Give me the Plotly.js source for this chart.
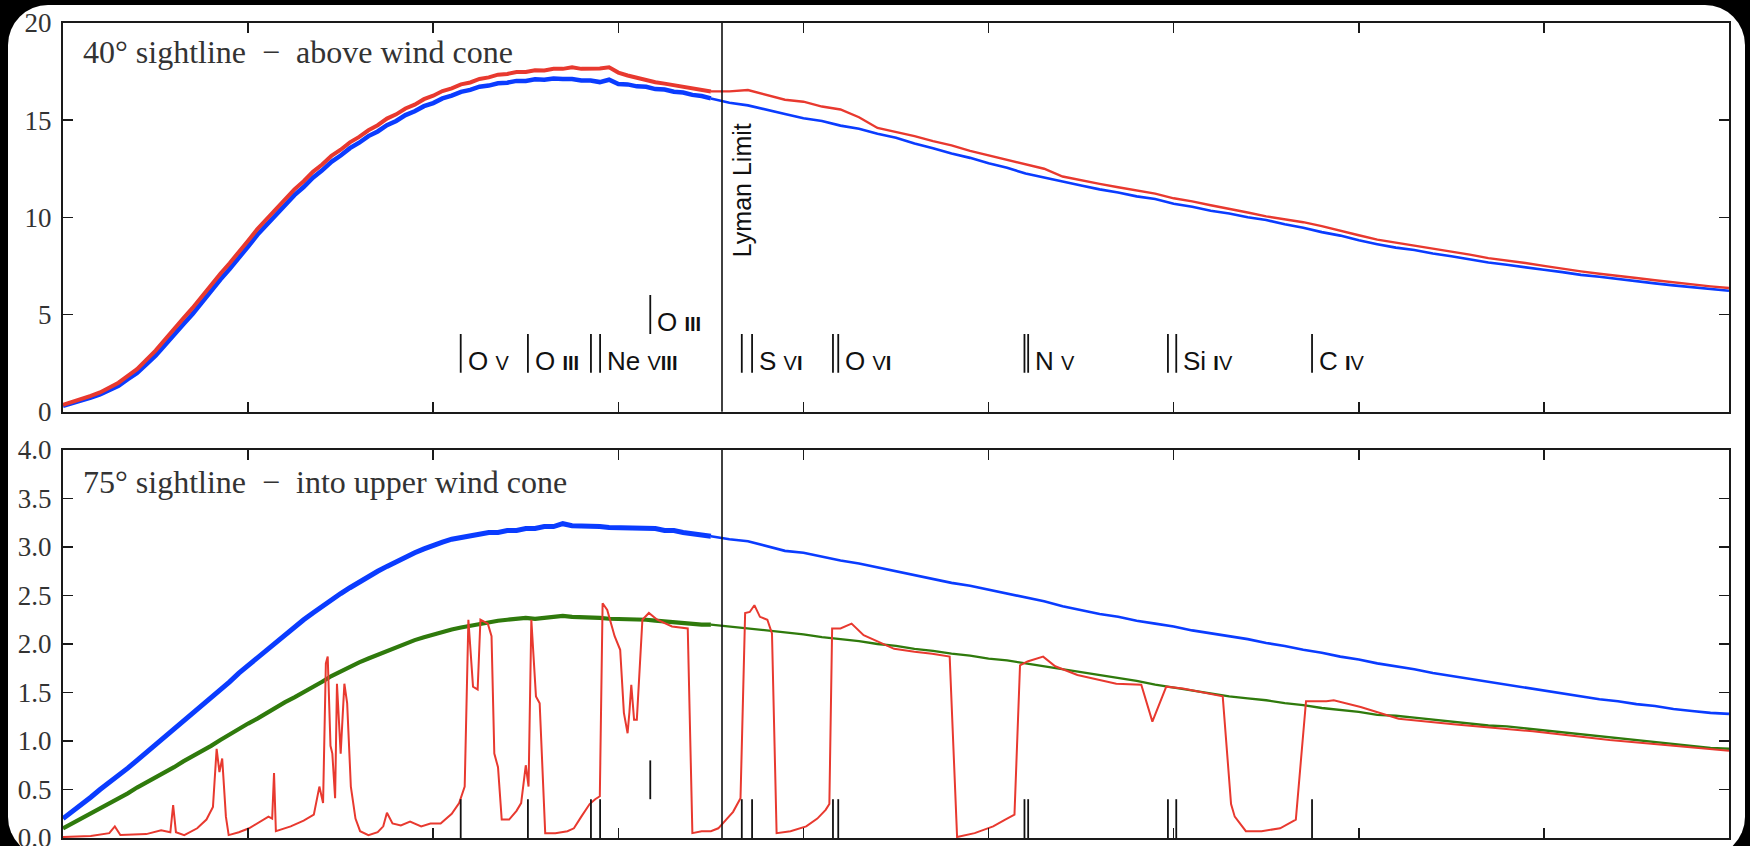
<!DOCTYPE html>
<html><head><meta charset="utf-8">
<script src="https://cdn.plot.ly/plotly-3.0.1.min.js"></script>
<style>
html,body{margin:0;padding:0;background:#000;overflow:hidden;width:1750px;height:846px;}
#card{position:absolute;left:8px;top:5px;width:1737px;height:852px;background:#fff;border-radius:40px;overflow:hidden;}
#plot{position:absolute;left:0;top:0;width:1737px;height:870px;}
</style></head><body><div id="card"><div id="plot"></div></div>
<script>
// wavelength grid (Angstrom)
const wave = [200,210,220,230,240,250,260,270,280,290,300,310,320,330,340,350,360,370,380,390,
400,410,420,430,440,450,460,470,480,490,500,510,520,530,540,550,560,570,580,590,
600,610,620,630,640,650,660,670,680,690,700,710,720,730,740,750,760,770,780,790,
800,810,820,830,840,850,860,870,880,890,900,
920,940,960,980,1000,1020,1040,1060,1080,1100,1120,1140,1160,1180,1200,1220,1240,1260,1280,1300,
1320,1340,1360,1380,1400,1420,1440,1460,1480,1500,1520,1540,1560,1580,1600,1620,1640,1660,1680,1700,
1720,1740,1760,1780,1800,1820,1840,1860,1880,1900,1920,1940,1960,1980,2000];

// 40 deg sightline
const top40Blue = [0.30,0.43,0.55,0.73,0.89,1.12,1.33,1.67,1.99,2.44,
2.88,3.42,3.92,4.50,5.03,5.64,6.18,6.80,7.34,7.96,
8.50,9.10,9.60,10.16,10.62,11.14,11.56,12.04,12.42,12.86,
13.18,13.56,13.84,14.18,14.42,14.74,14.96,15.26,15.46,15.72,
15.88,16.12,16.26,16.46,16.56,16.72,16.78,16.90,16.93,17.02,
17.02,17.10,17.08,17.14,17.12,17.12,17.04,17.04,16.96,17.08,
16.86,16.84,16.74,16.72,16.60,16.58,16.46,16.42,16.30,16.24,
16.12,
15.90,15.76,15.52,15.32,15.10,14.96,14.72,14.56,14.30,14.10,
13.80,13.56,13.28,13.06,12.78,12.55,12.25,12.06,11.84,11.64,
11.44,11.28,11.08,10.94,10.70,10.54,10.34,10.20,10.00,9.86,
9.64,9.46,9.24,9.06,8.82,8.62,8.44,8.32,8.14,8.00,
7.84,7.68,7.56,7.42,7.30,7.18,7.04,6.94,6.82,6.72,
6.60,6.50,6.40,6.30,6.22];
const top40Red = [0.35,0.49,0.62,0.81,0.99,1.24,1.49,1.84,2.19,2.67,
3.14,3.70,4.22,4.80,5.34,5.94,6.48,7.10,7.64,8.26,
8.80,9.40,9.90,10.46,10.92,11.44,11.86,12.34,12.72,13.16,
13.48,13.86,14.14,14.48,14.74,15.08,15.30,15.60,15.80,16.08,
16.26,16.50,16.64,16.84,16.94,17.12,17.20,17.34,17.38,17.48,
17.48,17.57,17.56,17.64,17.64,17.72,17.64,17.64,17.66,17.72,
17.45,17.30,17.18,17.05,16.95,16.88,16.80,16.72,16.64,16.56,
16.48,
16.48,16.55,16.30,16.05,15.95,15.70,15.55,15.15,14.60,14.40,
14.18,13.92,13.70,13.42,13.20,12.95,12.75,12.50,12.10,11.90,
11.72,11.55,11.38,11.22,10.98,10.82,10.62,10.45,10.25,10.05,
9.90,9.75,9.55,9.30,9.08,8.85,8.70,8.52,8.38,8.22,
8.08,7.90,7.78,7.65,7.50,7.35,7.22,7.10,7.00,6.88,
6.76,6.65,6.55,6.45,6.36];

// 75 deg sightline
const low75Blue = [0.20,0.27,0.34,0.42,0.50,0.57,0.65,0.72,0.80,0.88,
0.96,1.04,1.12,1.20,1.28,1.37,1.45,1.53,1.61,1.70,
1.78,1.86,1.94,2.02,2.10,2.17,2.25,2.32,2.39,2.46,
2.52,2.58,2.64,2.70,2.75,2.80,2.85,2.90,2.94,2.98,
3.02,3.05,3.08,3.10,3.12,3.13,3.15,3.15,3.17,3.17,
3.19,3.19,3.21,3.21,3.24,3.22,3.22,3.21,3.21,3.20,
3.20,3.19,3.20,3.19,3.19,3.17,3.17,3.15,3.14,3.12,
3.11,
3.08,3.06,3.01,2.96,2.94,2.90,2.86,2.83,2.79,2.75,
2.71,2.67,2.63,2.60,2.56,2.52,2.48,2.44,2.39,2.35,
2.31,2.28,2.24,2.21,2.18,2.14,2.11,2.08,2.05,2.01,
1.98,1.94,1.91,1.87,1.84,1.80,1.77,1.74,1.70,1.67,
1.64,1.61,1.58,1.55,1.52,1.49,1.46,1.43,1.41,1.38,
1.36,1.33,1.31,1.29,1.28];
const low75Green = [0.10,0.15,0.20,0.25,0.31,0.36,0.41,0.46,0.52,0.57,
0.62,0.68,0.73,0.79,0.84,0.90,0.95,1.01,1.07,1.12,
1.18,1.23,1.29,1.34,1.40,1.45,1.50,1.56,1.61,1.67,
1.72,1.76,1.81,1.85,1.89,1.93,1.97,2.00,2.04,2.07,
2.10,2.12,2.15,2.17,2.19,2.21,2.22,2.24,2.25,2.26,
2.27,2.26,2.27,2.28,2.29,2.28,2.28,2.27,2.27,2.26,
2.26,2.25,2.25,2.25,2.24,2.23,2.23,2.22,2.21,2.20,
2.20,
2.18,2.16,2.14,2.12,2.10,2.07,2.05,2.03,2.00,1.98,
1.95,1.93,1.90,1.88,1.85,1.83,1.80,1.77,1.74,1.71,
1.68,1.65,1.62,1.58,1.55,1.52,1.49,1.46,1.44,1.42,
1.39,1.37,1.34,1.32,1.30,1.27,1.26,1.24,1.22,1.20,
1.18,1.16,1.15,1.13,1.11,1.09,1.07,1.05,1.03,1.01,
0.99,0.97,0.95,0.93,0.92];

// absorbed spectrum (own wavelength samples)
const absWave = [200,230,250,256,262,290,306,316,319,322,331,345,355,362,366,369,372,376,379,390,
401,415,422,426,428,430,446,460,471,477,481,484,486,489,491,494,496,500,504,507,
511,516,521,530,540,546,550,556,565,575,587,597,608,620,628,634,638,643,648,651,
659,663,666,670,674,682,690,695,700,703,706,711,715,721,732,745,752,760,769,775,
780,783,788,796,802,806,810,812,814,817,820,826,833,842,858,875,877,880,890,900,
908,916,924,932,937,942,947,953,961,966,971,986,1003,1015,1024,1028,1031,1040,1052,1065,
1081,1098,1120,1139,1158,1166,1185,1205,1218,1228,1234,1242,1259,1272,1296,1338,1365,1377,1392,1410,
1453,1462,1466,1478,1495,1515,1532,1543,1565,1573,1602,1643,1705,1788,1871,2000];
const low75Red = [0.01,0.02,0.05,0.12,0.03,0.04,0.08,0.06,0.34,0.06,0.03,0.10,0.19,0.32,0.92,0.68,0.82,0.22,0.03,0.06,
0.10,0.18,0.22,0.20,0.67,0.07,0.12,0.18,0.24,0.53,0.36,1.80,1.87,0.95,0.87,0.41,1.59,0.87,1.59,1.39,
0.53,0.20,0.07,0.03,0.06,0.12,0.26,0.15,0.13,0.17,0.12,0.15,0.15,0.25,0.36,0.53,2.25,1.56,1.53,2.25,
2.21,2.08,0.87,0.73,0.19,0.19,0.28,0.36,0.75,0.53,2.25,1.46,1.39,0.05,0.05,0.07,0.10,0.22,0.35,0.40,
0.43,2.42,2.35,2.08,1.94,1.29,1.08,1.30,1.58,1.22,1.22,2.25,2.32,2.25,2.18,2.16,1.20,0.05,0.07,0.07,
0.10,0.19,0.27,0.41,2.32,2.33,2.40,2.28,2.25,2.11,0.05,0.07,0.12,0.20,0.29,0.35,2.16,2.16,2.21,2.09,
2.02,1.95,1.92,1.90,1.87,0.01,0.05,0.12,0.19,0.24,1.78,1.82,1.87,1.77,1.68,1.59,1.58,1.20,1.56,1.54,
1.46,0.35,0.22,0.07,0.07,0.10,0.19,1.41,1.41,1.42,1.35,1.23,1.17,1.10,1.01,0.90];

// ion transitions
const ionNames    = ['O','O','Ne','O','S','O','N','Si','C'];
const ionStages   = ['V','III','VIII','III','VI','VI','V','IV','IV'];
const ionWaves    = [[629.7],[702.3],[770.4,780.3],[834.5],[933.4,944.5],[1031.9,1037.6],[1238.8,1242.8],[1393.8,1402.8],[1549.5]];
const ionUpper    = [false,false,false,true,false,false,false,false,false];
const lymanLimit = 912;
const xTicks = [200,400,600,800,1000,1200,1400,1600,1800,2000];
const yTicksTop = [0,5,10,15,20];
const yTicksLow = [0,0.5,1,1.5,2,2.5,3,3.5,4];

const BLUE='#0a3cff', RED='#e8392f', GREEN='#2f7a0c';
const CUT = wave.indexOf(900);

function seg(x,y,ax,color,wNoisy,wSmooth){
  return [
    {x:x.slice(0,CUT+1),y:y.slice(0,CUT+1),xaxis:ax[0],yaxis:ax[1],mode:'lines',line:{color:color,width:wNoisy},hoverinfo:'skip'},
    {x:x.slice(CUT),y:y.slice(CUT),xaxis:ax[0],yaxis:ax[1],mode:'lines',line:{color:color,width:wSmooth},hoverinfo:'skip'}
  ];
}
function markerTrace(ax, lowLev, highLev, upLow, upHigh){
  const xs=[], ys=[];
  ionWaves.forEach((g,i)=>{
    g.forEach(w=>{
      xs.push(w,w,null);
      if(ionUpper[i]) ys.push(upLow,upHigh,null); else ys.push(lowLev,highLev,null);
    });
  });
  return {x:xs,y:ys,xaxis:ax[0],yaxis:ax[1],mode:'lines',line:{color:'#111',width:1.8},hoverinfo:'skip',connectgaps:false};
}

const T=['x','y'], L=['x2','y2'];
const data = [].concat(
  seg(wave, top40Blue, T, BLUE, 4.5, 2.6),
  seg(wave, top40Red, T, RED, 4.0, 2.4),
  [markerTrace(T, 2, 4, 4, 6)],
  seg(wave, low75Blue, L, BLUE, 5.0, 2.6),
  seg(wave, low75Green, L, GREEN, 4.2, 2.3),
  [{x:absWave,y:low75Red,xaxis:'x2',yaxis:'y2',mode:'lines',line:{color:RED,width:2},hoverinfo:'skip'}],
  [markerTrace(L, 0, 0.4, 0.4, 0.8)]
);

const axCommon = {showline:true,linewidth:2,linecolor:'#1a1a1a',mirror:'ticks',ticks:'inside',ticklen:10,tickwidth:1.6,tickcolor:'#1a1a1a',showgrid:false,zeroline:false};
const tickFont = {family:'Liberation Serif, serif',size:27,color:'#333'};

function roman(s){ return s.replace(/(I+)/g,'<b>$1</b>'); }
const annotations = [];
ionNames.forEach((n,i)=>{
  const x = Math.max(...ionWaves[i]);
  annotations.push({
    x:x, y: ionUpper[i]?4:2, xref:'x', yref:'y', xanchor:'left', yanchor:'bottom', xshift:5, yshift:-5,
    showarrow:false, align:'left',
    text: n + ' <span style="font-size:20px">' + roman(ionStages[i]) + '</span>',
    font:{family:'Liberation Sans, Arial, sans-serif',size:26,color:'#111'}
  });
});
annotations.push({x:0,y:18.5,xref:'paper',yref:'y',xanchor:'left',yanchor:'middle',xshift:18,showarrow:false,
  text:'40° sightline\u00a0\u00a0−\u00a0\u00a0above wind cone',font:{family:'Liberation Serif, serif',size:32,color:'#333'}});
annotations.push({x:0,y:3.67,xref:'paper',yref:'y2',xanchor:'left',yanchor:'middle',xshift:18,showarrow:false,
  text:'75° sightline\u00a0\u00a0−\u00a0\u00a0into upper wind cone',font:{family:'Liberation Serif, serif',size:32,color:'#333'}});
annotations.push({x:lymanLimit,y:11.4,xref:'x',yref:'y',xshift:20,textangle:-90,showarrow:false,
  text:'Lyman Limit',font:{family:'Liberation Sans, Arial, sans-serif',size:25,color:'#111'},xanchor:'center',yanchor:'middle'});

const layout = {
  width:1737,height:870,
  margin:{l:55,r:16,t:18,b:37},
  paper_bgcolor:'rgba(0,0,0,0)',plot_bgcolor:'#fff',
  showlegend:false,
  xaxis:Object.assign({},axCommon,{domain:[0,1],range:[200,2000],tickvals:xTicks,showticklabels:false,anchor:'y'}),
  yaxis:Object.assign({},axCommon,{domain:[0.5231,1],range:[0,20],tickvals:yTicksTop,tickfont:tickFont,anchor:'x',ticklabelstandoff:4,ticklabeloverflow:'allow'}),
  xaxis2:Object.assign({},axCommon,{domain:[0,1],range:[200,2000],tickvals:xTicks,showticklabels:false,anchor:'y2',matches:'x'}),
  yaxis2:Object.assign({},axCommon,{domain:[0,0.4761],range:[0,4],tickvals:yTicksLow,ticktext:yTicksLow.map(v=>v.toFixed(1)),tickfont:tickFont,anchor:'x2',ticklabelstandoff:4,ticklabeloverflow:'allow'}),
  shapes:[
    {type:'line',xref:'x',yref:'y domain',x0:lymanLimit,x1:lymanLimit,y0:0,y1:1,line:{color:'#111',width:1.6}},
    {type:'line',xref:'x2',yref:'y2 domain',x0:lymanLimit,x1:lymanLimit,y0:0,y1:1,line:{color:'#111',width:1.6}}
  ],
  annotations:annotations
};
Plotly.newPlot('plot', data, layout, {staticPlot:true,displayModeBar:false});
</script></body></html>
